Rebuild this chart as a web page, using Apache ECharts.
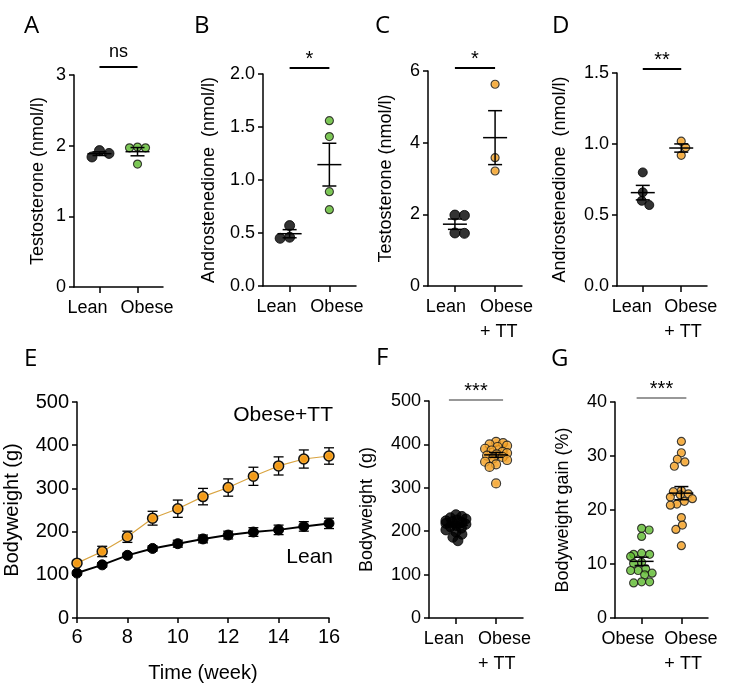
<!DOCTYPE html>
<html><head><meta charset="utf-8">
<script src="https://cdn.jsdelivr.net/npm/echarts@6/dist/echarts.min.js"></script>
<style>html,body{margin:0;padding:0;background:#fff}#c{width:731px;height:693px}</style>
</head><body><div id="c"></div>
<script>
// ---------------- DATA ----------------
const catsABLabels = ['Lean', 'Obese'];
const catsCDFLabels = ['Lean', 'Obese\n+ TT'];
const catsGLabels = ['Obese', 'Obese\n+ TT'];

const aLean = [1.84, 1.93, 1.89];
const aObese = [1.97, 1.98, 1.97, 1.74];
const bLean = [0.57, 0.45, 0.46];
const bObese = [1.56, 1.41, 0.89, 0.72];
const cLean = [1.98, 1.97, 1.47, 1.48];
const cObeseTT = [5.63, 3.58, 3.21];
const dLean = [0.80, 0.66, 0.60, 0.57];
const dObeseTT = [1.02, 0.975, 0.92];

const weeks = [6, 7, 8, 9, 10, 11, 12, 13, 14, 15, 16];
const eLeanMean = [104, 123, 145, 161, 172, 183, 192, 199, 204, 212, 219];
const eLeanSem = [4, 5, 5, 6, 8, 9, 9, 10, 11, 11, 12];
const eObeseMean = [127, 154, 188, 231, 253, 281, 302, 328, 352, 368, 375];
const eObeseSem = [5, 12, 13, 16, 20, 19, 20, 21, 21, 21, 19];

const fLean = [238, 234, 231, 228, 226, 224, 222, 220, 218, 216, 213, 210, 207, 203, 198, 193, 186, 178];
const fObeseTT = [406, 403, 400, 397, 394, 390, 386, 383, 380, 377, 374, 371, 368, 364, 360, 354, 348, 310];
const gObese = [16.3, 16.6, 15.1, 11.8, 12.0, 11.8, 11.4, 10.3, 10.1, 9.1, 8.8, 8.8, 8.3, 8.0, 6.7, 6.7, 6.5];
const gObeseTT = [32.7, 30.6, 29.4, 28.9, 28.1, 23.6, 23.4, 23.0, 22.8, 22.4, 22.1, 21.6, 21.1, 20.9, 18.6, 17.2, 16.4, 13.4];

const yRanges = [[0, 3, 1], [0, 2, 0.5], [0, 6, 2], [0, 1.5, 0.5], [0, 500, 100], [0, 500, 100], [0, 40, 10]];
const yNames = ['Testosterone (nmol/l)', 'Androstenedione  (nmol/l)', 'Testosterone (nmol/l)', 'Androstenedione  (nmol/l)', 'Bodyweight (g)', 'Bodyweight  (g)', 'Bodyweight gain (%)'];
const sigTexts = ['ns', '*', '*', '**', null, '***', '***'];
const panelLetters = ['A', 'B', 'C', 'D', 'E', 'F', 'G'];

// ---------------- LAYOUT / STYLE ----------------
const FONT = '"Liberation Sans", Arial, sans-serif';
const grids = [
  {left: 74, top: 75, width: 89, height: 212},
  {left: 263, top: 74, width: 93, height: 212},
  {left: 428, top: 71, width: 94, height: 215},
  {left: 617, top: 73, width: 90, height: 213},
  {left: 77, top: 402, width: 252, height: 216},
  {left: 429, top: 401, width: 94, height: 217},
  {left: 615, top: 402, width: 93, height: 216}
];
const nameGaps = [27, 45, 33, 48, 55, 53, 43];
const letterPos = [[24, 14], [194, 14], [375, 14], [552, 14], [24, 347], [376, 346], [551, 347]];
// horizontal label nudges: left label right edge = tick + a, right label left edge = tick - b
const labelNudge = [[8, 17], [7, 19], [11, 15], [9, 17], null, [8, 18], [13, 17]];

const black = {color: '#000', borderColor: '#000', borderWidth: 1};
function radial(c0, c1) {
  return {type: 'radial', x: 0.5, y: 0.5, r: 0.5, colorStops: [{offset: 0, color: c0}, {offset: 0.45, color: c0}, {offset: 1, color: c1}]};
}
const green = {color: radial('#58B82A', '#8FDC4E'), borderColor: '#111', borderWidth: 1.2};
const orange = {color: radial('#F39A16', '#FFCB6E'), borderColor: '#111', borderWidth: 1.2};

function swarm(values, ppu, d, maxHalf) {
  const order = values.map((v, i) => i).sort((a, b) => values[b] - values[a]);
  const placed = [];
  const offs = new Array(values.length).fill(0);
  for (const i of order) {
    const y = values[i] * ppu;
    let best = 0, bestPen = Infinity;
    for (let x = 0; x <= maxHalf + 1e-9; x += 0.5) {
      const cands = x === 0 ? [0] : (placed.length % 2 ? [x, -x] : [-x, x]);
      for (const s of cands) {
        let pen = 0;
        for (const p of placed) {
          const dist = Math.hypot(p[0] - s, p[1] - y);
          if (dist < d) pen += d - dist;
        }
        if (pen < bestPen - 1e-9) { bestPen = pen; best = s; }
      }
      if (bestPen === 0) break;
    }
    placed.push([best, y]);
    offs[i] = best;
  }
  return offs;
}

function mean(a) { return a.reduce((s, v) => s + v, 0) / a.length; }
function sem(a) {
  const m = mean(a);
  const sd = Math.sqrt(a.reduce((s, v) => s + (v - m) * (v - m), 0) / (a.length - 1));
  return sd / Math.sqrt(a.length);
}

function dotSeries(gi, cat, vals, style, size, maxHalf, spacing) {
  const r = yRanges[gi];
  const ppu = grids[gi].height / (r[1] - r[0]);
  const offs = swarm(vals, ppu, size * (spacing || 0.95), maxHalf);
  return {
    type: 'scatter', xAxisIndex: gi, yAxisIndex: gi, symbol: 'circle', symbolSize: size,
    itemStyle: style, z: 2, silent: true,
    data: vals.map((v, i) => ({value: [cat, v], symbolOffset: [offs[i], 0]}))
  };
}

function meanSemSeries(gi, groups) {
  return {
    type: 'custom', xAxisIndex: gi, yAxisIndex: gi, z: 5, silent: true,
    encode: {x: 0, y: [1, 2, 3]},
    data: groups.map((g, k) => { const m = mean(g), s = sem(g); return [k + 1, m, m - s, m + s]; }),
    renderItem: function (params, api) {
      const c = api.coord([api.value(0), api.value(1)]);
      const lo = api.coord([api.value(0), api.value(2)]);
      const hi = api.coord([api.value(0), api.value(3)]);
      const st = {stroke: '#000', lineWidth: 1.5};
      return {type: 'group', children: [
        {type: 'line', shape: {x1: c[0] - 12, y1: c[1], x2: c[0] + 12, y2: c[1]}, style: st},
        {type: 'line', shape: {x1: c[0], y1: lo[1], x2: c[0], y2: hi[1]}, style: st},
        {type: 'line', shape: {x1: c[0] - 7, y1: lo[1], x2: c[0] + 7, y2: lo[1]}, style: st},
        {type: 'line', shape: {x1: c[0] - 7, y1: hi[1], x2: c[0] + 7, y2: hi[1]}, style: st}
      ]};
    }
  };
}

function errSeries(means, sems) {
  return {
    type: 'custom', xAxisIndex: 4, yAxisIndex: 4, z: 1, silent: true,
    encode: {x: 0, y: [1, 2]},
    data: weeks.map((w, i) => [w, means[i] - sems[i], means[i] + sems[i]]),
    renderItem: function (params, api) {
      const lo = api.coord([api.value(0), api.value(1)]);
      const hi = api.coord([api.value(0), api.value(2)]);
      const st = {stroke: '#000', lineWidth: 1.3};
      return {type: 'group', children: [
        {type: 'line', shape: {x1: lo[0], y1: lo[1], x2: hi[0], y2: hi[1]}, style: st},
        {type: 'line', shape: {x1: lo[0] - 5, y1: lo[1], x2: lo[0] + 5, y2: lo[1]}, style: st},
        {type: 'line', shape: {x1: hi[0] - 5, y1: hi[1], x2: hi[0] + 5, y2: hi[1]}, style: st}
      ]};
    }
  };
}

const axLine = {show: true, lineStyle: {color: '#000', width: 1.5}};
const axTick = {show: true, length: 5, lineStyle: {color: '#000', width: 1.5}};

const catLabelSets = [catsABLabels, catsABLabels, catsCDFLabels, catsCDFLabels, null, catsCDFLabels, catsGLabels];

const xAxes = grids.map((g, i) => {
  if (i === 4) {
    return {
      gridIndex: 4, type: 'value', min: 6, max: 16, interval: 2,
      name: 'Time (week)', nameLocation: 'middle', nameGap: 45,
      nameTextStyle: {color: '#000', fontSize: 20, fontFamily: FONT},
      axisLine: axLine, axisTick: axTick, splitLine: {show: false},
      axisLabel: {color: '#000', fontSize: 20, fontFamily: FONT, margin: 9}
    };
  }
  return {
    gridIndex: i, type: 'value', min: 0.33, max: 2.67,
    axisLine: axLine, splitLine: {show: false},
    axisTick: Object.assign({}, axTick, {customValues: [1, 2], length: 6}),
    axisLabel: {show: false}
  };
});

const yAxes = grids.map((g, i) => {
  const r = yRanges[i];
  const dec = (i === 1 || i === 3);
  return {
    gridIndex: i, type: 'value', min: r[0], max: r[1], interval: r[2],
    name: yNames[i], nameLocation: 'middle', nameGap: nameGaps[i],
    nameTextStyle: {color: '#000', fontSize: i === 4 ? 20 : 18, fontFamily: FONT},
    axisLine: axLine, axisTick: axTick, splitLine: {show: false},
    axisLabel: {color: '#000', fontSize: i === 4 ? 20 : 18, fontFamily: FONT, margin: 8,
      showMinLabel: true, showMaxLabel: true,
      formatter: v => dec ? Number(v).toFixed(1) : String(v)}
  };
});

const series = [
  dotSeries(0, 1, aLean, black, 10, 14), dotSeries(0, 2, aObese, green, 8, 14), meanSemSeries(0, [aLean, aObese]),
  dotSeries(1, 1, bLean, black, 10, 14), dotSeries(1, 2, bObese, green, 8, 14), meanSemSeries(1, [bLean, bObese]),
  dotSeries(2, 1, cLean, black, 10, 14), dotSeries(2, 2, cObeseTT, orange, 8, 14), meanSemSeries(2, [cLean, cObeseTT]),
  dotSeries(3, 1, dLean, black, 9, 14), dotSeries(3, 2, dObeseTT, orange, 8, 14), meanSemSeries(3, [dLean, dObeseTT]),
  errSeries(eLeanMean, eLeanSem), errSeries(eObeseMean, eObeseSem),
  {type: 'line', xAxisIndex: 4, yAxisIndex: 4, z: 3, silent: true, symbol: 'circle', symbolSize: 10,
    itemStyle: black, lineStyle: {color: '#000', width: 2},
    data: weeks.map((w, i) => [w, eLeanMean[i]])},
  {type: 'line', xAxisIndex: 4, yAxisIndex: 4, z: 3, silent: true, symbol: 'circle', symbolSize: 10,
    itemStyle: Object.assign({}, orange, {borderWidth: 1.5}), lineStyle: {color: '#D9A441', width: 1.2},
    data: weeks.map((w, i) => [w, eObeseMean[i]])},
  dotSeries(5, 1, fLean, black, 10, 10, 0.6), dotSeries(5, 2, fObeseTT, orange, 9, 11, 0.75), meanSemSeries(5, [fLean, fObeseTT]),
  dotSeries(6, 1, gObese, green, 8, 11), dotSeries(6, 2, gObeseTT, orange, 8, 11), meanSemSeries(6, [gObese, gObeseTT])
];

const chart = echarts.init(document.getElementById('c'), null, {renderer: 'canvas'});
chart.setOption({
  animation: false,
  backgroundColor: '#fff',
  textStyle: {fontFamily: FONT},
  grid: grids.map(g => Object.assign({outerBoundsMode: 'none', containLabel: false}, g)),
  xAxis: xAxes,
  yAxis: yAxes,
  series: series
});

// annotations (panel letters, significance bars, category labels, line labels)
const gfx = [];
panelLetters.forEach((L, i) => {
  gfx.push({type: 'text', x: letterPos[i][0], y: letterPos[i][1],
    style: {text: L, fill: '#000', font: '24px "Open Sans", "DejaVu Sans", sans-serif', textAlign: 'left', textVerticalAlign: 'top', align: 'left', verticalAlign: 'top'}});
});
const sigWiden = [0, 0, 0, 0, 0, 7, 5];
const sigRaise = [8, 6, 3, 4, 0, 1, 4];
sigTexts.forEach((t, i) => {
  if (!t) return;
  const r = yRanges[i];
  const p1 = chart.convertToPixel({gridIndex: i}, [1, r[1]]);
  const p2 = chart.convertToPixel({gridIndex: i}, [2, r[1]]);
  const y = p1[1] - sigRaise[i];
  const thin = i >= 5;
  gfx.push({type: 'line', shape: {x1: p1[0] - sigWiden[i], y1: y, x2: p2[0] + sigWiden[i], y2: y},
    style: {stroke: thin ? '#333' : '#000', lineWidth: thin ? 1.2 : 1.8}});
  const isNs = t === 'ns';
  gfx.push({type: 'text', x: (p1[0] + p2[0]) / 2, y: isNs ? y - 6 : y + 1,
    style: {text: t, fill: '#000', font: (isNs ? '18px ' : '20px ') + FONT, textAlign: 'center', textVerticalAlign: 'bottom', align: 'center', verticalAlign: 'bottom'}});
});
// category labels below the dot-plot axes
catLabelSets.forEach((labs, i) => {
  if (!labs) return;
  const r = yRanges[i];
  const p1 = chart.convertToPixel({gridIndex: i}, [1, r[0]]);
  const p2 = chart.convertToPixel({gridIndex: i}, [2, r[0]]);
  const y = p1[1] + 9;
  gfx.push({type: 'text', x: p1[0] + labelNudge[i][0], y: y,
    style: {text: labs[0], fill: '#000', font: '18px ' + FONT, lineHeight: 25, textAlign: 'right', textVerticalAlign: 'top', align: 'right', verticalAlign: 'top'}});
  gfx.push({type: 'text', x: p2[0] - labelNudge[i][1], y: y,
    style: {text: labs[1], fill: '#000', font: '18px ' + FONT, lineHeight: 25, textAlign: 'left', textVerticalAlign: 'top', align: 'left', verticalAlign: 'top'}});
});
gfx.push({type: 'text', x: 333, y: 415, style: {text: 'Obese+TT', fill: '#000', font: '21px ' + FONT, textAlign: 'right', textVerticalAlign: 'middle', align: 'right', verticalAlign: 'middle'}});
gfx.push({type: 'text', x: 333, y: 557, style: {text: 'Lean', fill: '#000', font: '21px ' + FONT, textAlign: 'right', textVerticalAlign: 'middle', align: 'right', verticalAlign: 'middle'}});
chart.setOption({graphic: gfx});
</script>
</body></html>
